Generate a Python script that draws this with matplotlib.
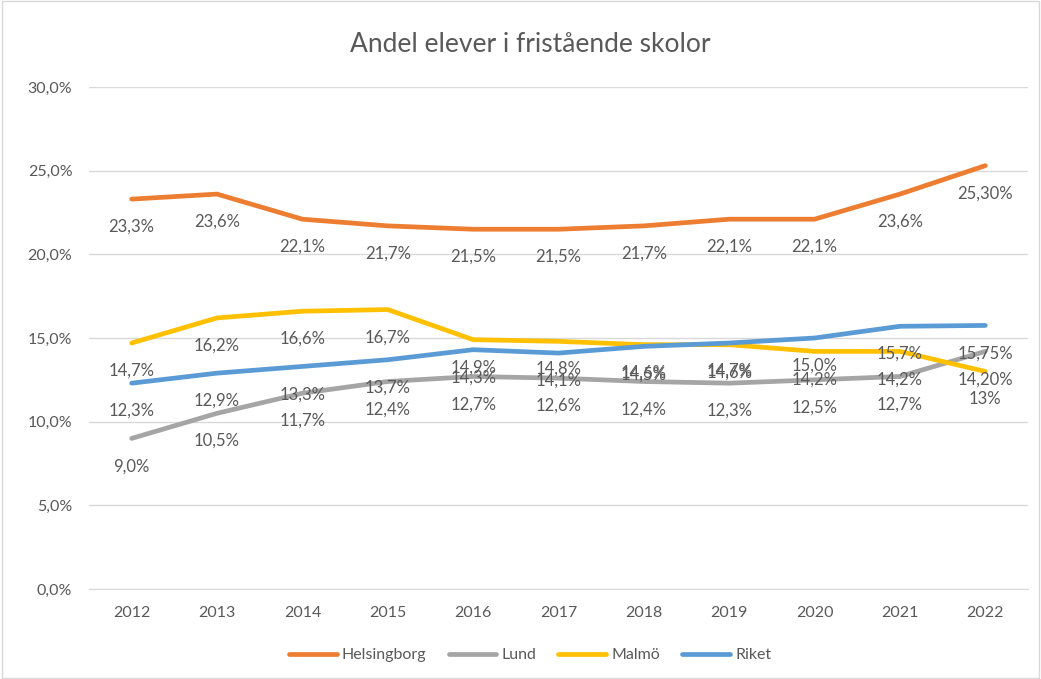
import matplotlib.pyplot as plt
from matplotlib.ticker import FuncFormatter

plt.rcParams['font.family'] = ['Lato', 'DejaVu Sans']

# Data
years = [2012, 2013, 2014, 2015, 2016, 2017, 2018, 2019, 2020, 2021, 2022]
helsingborg = [23.3, 23.6, 22.1, 21.7, 21.5, 21.5, 21.7, 22.1, 22.1, 23.6, 25.3]
lund = [9.0, 10.5, 11.7, 12.4, 12.7, 12.6, 12.4, 12.3, 12.5, 12.7, 14.2]
malmo = [14.7, 16.2, 16.6, 16.7, 14.9, 14.8, 14.6, 14.6, 14.2, 14.2, 13.0]
riket = [12.3, 12.9, 13.3, 13.7, 14.3, 14.1, 14.5, 14.7, 15.0, 15.7, 15.75]

# labels as shown in the chart
helsingborg_lbl = ["23,3%", "23,6%", "22,1%", "21,7%", "21,5%", "21,5%", "21,7%", "22,1%", "22,1%", "23,6%", "25,30%"]
lund_lbl = ["9,0%", "10,5%", "11,7%", "12,4%", "12,7%", "12,6%", "12,4%", "12,3%", "12,5%", "12,7%", "14,20%"]
malmo_lbl = ["14,7%", "16,2%", "16,6%", "16,7%", "14,9%", "14,8%", "14,6%", "14,6%", "14,2%", "14,2%", "13%"]
riket_lbl = ["12,3%", "12,9%", "13,3%", "13,7%", "14,3%", "14,1%", "14,5%", "14,7%", "15,0%", "15,7%", "15,75%"]

series = [
    ("Helsingborg", helsingborg, helsingborg_lbl, "#ED7D31"),
    ("Lund", lund, lund_lbl, "#A5A5A5"),
    ("Malmö", malmo, malmo_lbl, "#FFC000"),
    ("Riket", riket, riket_lbl, "#5B9BD5"),
]

fig = plt.figure(figsize=(10.41, 6.79), dpi=100)
ax = fig.add_axes([89 / 1041, 1 - 589 / 679, (1028 - 89) / 1041, (589 - 87) / 679])

x = list(range(len(years)))
for name, vals, lbls, col in series:
    ax.plot(x, vals, color=col, linewidth=3.4, label=name, solid_capstyle='round')
    for xi, v, t in zip(x, vals, lbls):
        ax.annotate(t, (xi, v), xytext=(0, -20), textcoords='offset points',
                    ha='center', va='center', fontsize=12, color='#595959')

ax.set_xlim(-0.5, len(years) - 0.5)
ax.set_ylim(0, 30)
ax.set_yticks(range(0, 31, 5))
ax.yaxis.set_major_formatter(FuncFormatter(lambda v, p: f"{v:.1f}%".replace('.', ',')))
ax.set_xticks(x)
ax.set_xticklabels([str(y) for y in years])
ax.grid(axis='y', color='#D9D9D9', linewidth=1)
ax.set_axisbelow(True)
for s in ['top', 'right', 'left']:
    ax.spines[s].set_visible(False)
ax.spines['bottom'].set_color('#D9D9D9')
ax.tick_params(length=0, labelsize=11.5, colors='#595959', pad=12)

fig.text(530 / 1041, 1 - 45 / 679, "Andel elever i fristående skolor", ha='center', va='center',
         fontsize=19, color='#595959')

leg = fig.legend(loc='center', bbox_to_anchor=(530 / 1041, 1 - 655 / 679), ncol=4, frameon=False,
                 fontsize=11.5, handlelength=3, columnspacing=1.4, handletextpad=0.3)
for t in leg.get_texts():
    t.set_color('#595959')

fig.patches.append(plt.Rectangle((0.002, 0.002), 0.996, 0.996, transform=fig.transFigure,
                                 fill=False, edgecolor='#D9D9D9', linewidth=1))

fig.savefig("out.png", dpi=100)
